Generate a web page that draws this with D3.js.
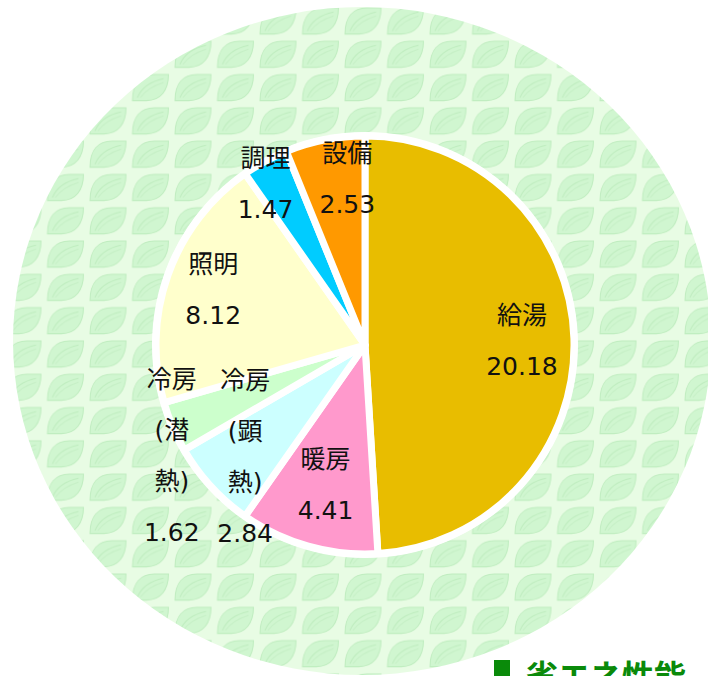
<!DOCTYPE html>
<html>
<head>
  <meta charset="UTF-8"/>
  <title>エネルギー消費量の内訳</title>
  <script src="https://d3js.org/d3.v7.min.js"></script>
  <style>
    body { margin: 0; background: #fff; }
    svg { display: block; }
    text { font-family: "DejaVu Sans", "Noto Sans CJK JP", sans-serif; font-size: 25px; fill: #111; }
    .heading { font-family: "Noto Sans CJK JP", sans-serif; font-size: 32px; font-weight: bold; fill: #0a8a0a; }
  </style>
</head>
<body>
<svg width="708" height="676"></svg>
<script>
// chart data
var categories = ["給湯", "暖房", "冷房(顕熱)", "冷房(潜熱)", "照明", "調理", "設備"];
var values = [20.18, 4.41, 2.84, 1.62, 8.12, 1.47, 2.53];
var labelLines = [["給湯"], ["暖房"], ["冷房", "(顕", "熱)"], ["冷房", "(潜", "熱)"], ["照明"], ["調理"], ["設備"]];
var colors = ["#e8bd00", "#ff99cc", "#ccffff", "#ccffcc", "#ffffcc", "#00ccff", "#ff9900"];

var svg = d3.select("svg");
var cx = 365, cy = 345, radius = 209;

// leaf pattern for the background disc
var defs = svg.append("defs");
var pat = defs.append("pattern")
    .attr("id", "leaves")
    .attr("patternUnits", "userSpaceOnUse")
    .attr("width", 42.5)
    .attr("height", 33.3)
    .attr("x", 2).attr("y", 4);
pat.append("rect").attr("width", 42.5).attr("height", 33.3).attr("fill", "#e8fce4");
pat.append("path")
    .attr("d", "M3,30 C3,13 11,4 25,4 L39,4 C39,20 31,30 17,30 Z")
    .attr("fill", "#d0f6d0")
    .attr("stroke", "#bfedbf")
    .attr("stroke-width", 1);
pat.append("path")
    .attr("d", "M8,27 C12,17 20,11 34,8")
    .attr("fill", "none")
    .attr("stroke", "#bfedbf")
    .attr("stroke-width", 1);
pat.append("path")
    .attr("d", "M11,27 C16,20 24,15 34,12")
    .attr("fill", "none")
    .attr("stroke", "#c6f0c6")
    .attr("stroke-width", 1);

svg.append("ellipse")
    .attr("cx", 362).attr("cy", 341)
    .attr("rx", 349).attr("ry", 334)
    .attr("fill", "url(#leaves)");

// white rim round the pie
svg.append("circle")
    .attr("cx", cx).attr("cy", cy)
    .attr("r", radius + 4)
    .attr("fill", "#fff");

var g = svg.append("g").attr("transform", "translate(" + cx + "," + cy + ")");

var pie = d3.pie().sort(null).value(function(d) { return d; });
var arc = d3.arc().innerRadius(0).outerRadius(radius);
var labelArc = d3.arc().innerRadius(160).outerRadius(160);

var arcs = pie(values);

g.selectAll(".slice")
  .data(arcs)
  .enter().append("path")
    .attr("class", "slice")
    .attr("d", arc)
    .attr("fill", function(d, i) { return colors[i]; })
    .attr("stroke", "#fff")
    .attr("stroke-width", 7)
    .attr("stroke-linejoin", "round");

// excel style "best fit" pushes some labels about
var nudge = {
  "給湯": [-3, 0], "暖房": [4, -15], "冷房(顕熱)": [-2, 3], "冷房(潜熱)": [-46, 48],
  "照明": [-1, -2], "調理": [-23, -21], "設備": [13, -9]
};
var lineH = 51;

arcs.forEach(function(d, i) {
  var c = labelArc.centroid(d);
  var n = nudge[categories[i]];
  var lines = labelLines[i].concat([values[i].toFixed(2)]);
  var t = g.append("text")
      .attr("text-anchor", "middle")
      .attr("transform", "translate(" + (c[0] + n[0]) + "," + (c[1] + n[1]) + ")");
  lines.forEach(function(s, k) {
    t.append("tspan")
      .attr("x", 0)
      .attr("y", (k - (lines.length - 1) / 2) * lineH)
      .attr("dy", "0.36em")
      .text(s);
  });
});

// heading peeking in at the bottom
svg.append("rect")
    .attr("x", 494).attr("y", 660)
    .attr("width", 16).attr("height", 20)
    .attr("fill", "#0a8a0a");
svg.append("text")
    .attr("class", "heading")
    .attr("x", 526).attr("y", 688)
    .text("省エネ性能");
</script>
</body>
</html>
